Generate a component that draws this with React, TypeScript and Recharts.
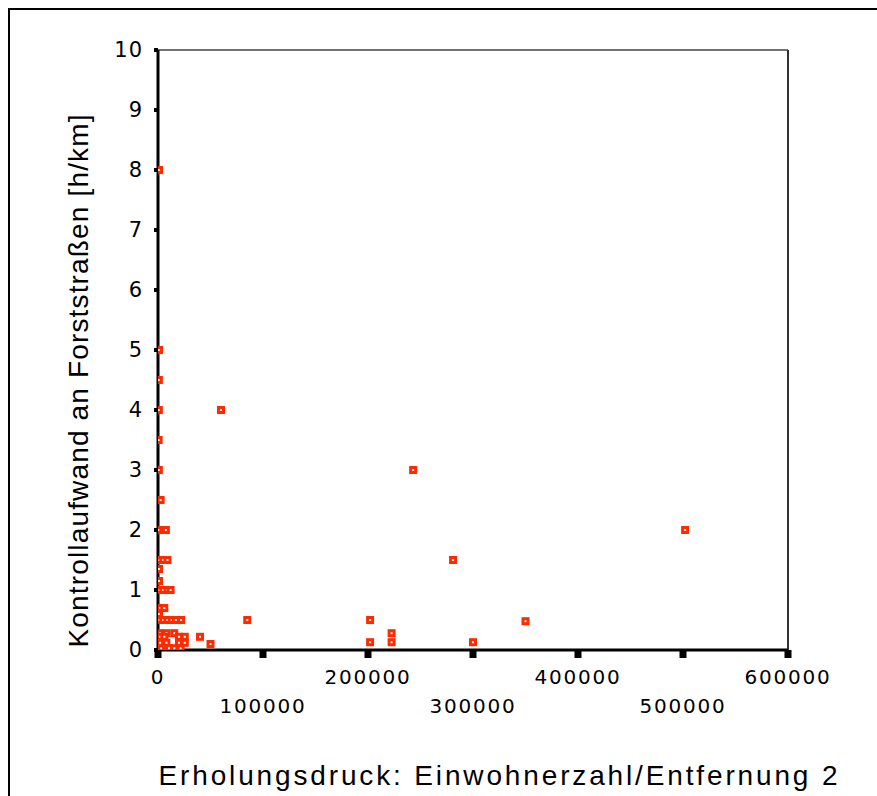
import { ScatterChart, Scatter, XAxis, YAxis, ReferenceLine, Label } from "recharts";

// Erholungsdruck (Einwohnerzahl / Entfernung^2) per site
const pressure = [
  1000, 1000, 800, 800, 600, 800, 2500, 1000, 5000, 7500,
  1500, 5000, 9000, 1000, 1000, 1500, 5000, 9000, 12000, 2000,
  6000, 1000, 1500, 5000, 9000, 13000, 17000, 22000, 85000, 202000,
  350000, 2000, 8000, 15500, 222500, 2000, 6000, 20000, 25500, 40000,
  2000, 8000, 20000, 25500, 50000, 202000, 222500, 300000, 3000, 10500,
  15500, 21500, 60000, 243000, 281000, 502000,
];

// Kontrollaufwand an Forststraßen [h/km]
const effort = [
  8, 5, 4.5, 4, 3.5, 3, 2.5, 2, 2, 2,
  1.5, 1.5, 1.5, 1.35, 1.15, 1, 1, 1, 1, 0.7,
  0.7, 0.6, 0.5, 0.5, 0.5, 0.5, 0.5, 0.5, 0.5, 0.5,
  0.48, 0.28, 0.28, 0.28, 0.28, 0.22, 0.22, 0.22, 0.22, 0.22,
  0.12, 0.12, 0.12, 0.12, 0.1, 0.13, 0.13, 0.13, 0.03, 0.03,
  0.03, 0.03, 4, 3, 1.5, 2,
];

const xTicks = [0, 100000, 200000, 300000, 400000, 500000, 600000];
const yTicks = [0, 1, 2, 3, 4, 5, 6, 7, 8, 9, 10];

const data = pressure.map((x, i) => ({ x, y: effort[i] }));

const tickFont = "'DejaVu Sans', sans-serif";
const titleFont = "'Liberation Sans Narrow', 'Liberation Sans', sans-serif";

function XTick(props: any) {
  const { x, y, payload, index } = props;
  return (
    <text
      x={x}
      y={y}
      dy={index % 2 === 1 ? 53 : 24}
      textAnchor="middle"
      fontFamily={tickFont}
      fontSize={20}
      letterSpacing={1.8}
      fill="#000"
    >
      {payload.value}
    </text>
  );
}

// red square, thick outline, tiny white centre
function Marker(props: any) {
  const { cx, cy } = props;
  return <rect x={cx - 2.5} y={cy - 2.5} width={5} height={5} fill="#fff" stroke="#ff2a00" strokeWidth={3} />;
}

export default function App() {
  return (
    <div style={{ position: "absolute", left: 0, top: 0, width: 877, height: 796, background: "#fff", overflow: "hidden" }}>
      <div
        style={{
          position: "absolute",
          left: 8,
          top: 8,
          width: 900,
          height: 820,
          border: "2px solid #000",
          boxSizing: "border-box",
        }}
      />
      <ScatterChart width={877} height={796} margin={{ top: 50, right: 89, left: 98, bottom: 86 }}>
        <XAxis
          type="number"
          dataKey="x"
          domain={[0, 600000]}
          allowDataOverflow
          ticks={xTicks}
          interval={0}
          height={60}
          axisLine={{ stroke: "#000", strokeWidth: 3 }}
          tickLine={{ stroke: "#000", strokeWidth: 7 }}
          tickSize={8}
          tickMargin={2}
          tick={<XTick />}
        >
          <Label
            content={(p: any) => {
              const vb = p.viewBox;
              return (
                <text
                  x={vb.x + 340}
                  y={vb.y + 135}
                  textAnchor="middle"
                  fontFamily={titleFont}
                  fontSize={28}
                  textLength={679}
                  lengthAdjust="spacing"
                  fill="#000"
                >
                  Erholungsdruck: Einwohnerzahl/Entfernung 2
                </text>
              );
            }}
          />
        </XAxis>
        <YAxis
          type="number"
          dataKey="y"
          domain={[0, 10]}
          allowDataOverflow
          ticks={yTicks}
          interval={0}
          width={60}
          axisLine={{ stroke: "#000", strokeWidth: 3 }}
          tickLine={{ stroke: "#000", strokeWidth: 4 }}
          tickSize={4}
          tickMargin={11}
          tick={{ fill: "#000", fontSize: 21, fontFamily: tickFont, letterSpacing: 1 }}
        >
          <Label
            content={(p: any) => {
              const vb = p.viewBox;
              const cx = vb.x - 20;
              const cy = vb.y + 331;
              return (
                <text
                  x={cx}
                  y={cy}
                  transform={`rotate(-90, ${cx}, ${cy})`}
                  textAnchor="middle"
                  dominantBaseline="central"
                  fontFamily={titleFont}
                  fontSize={28}
                  textLength={533}
                  lengthAdjust="spacing"
                  fill="#000"
                >
                  Kontrollaufwand an Forststraßen [h/km]
                </text>
              );
            }}
          />
        </YAxis>
        <ReferenceLine y={10} stroke="#444" strokeWidth={1.5} />
        <ReferenceLine x={600000} stroke="#333" strokeWidth={2} />
        <Scatter data={data} shape={<Marker />} isAnimationActive={false} />
      </ScatterChart>
    </div>
  );
}
